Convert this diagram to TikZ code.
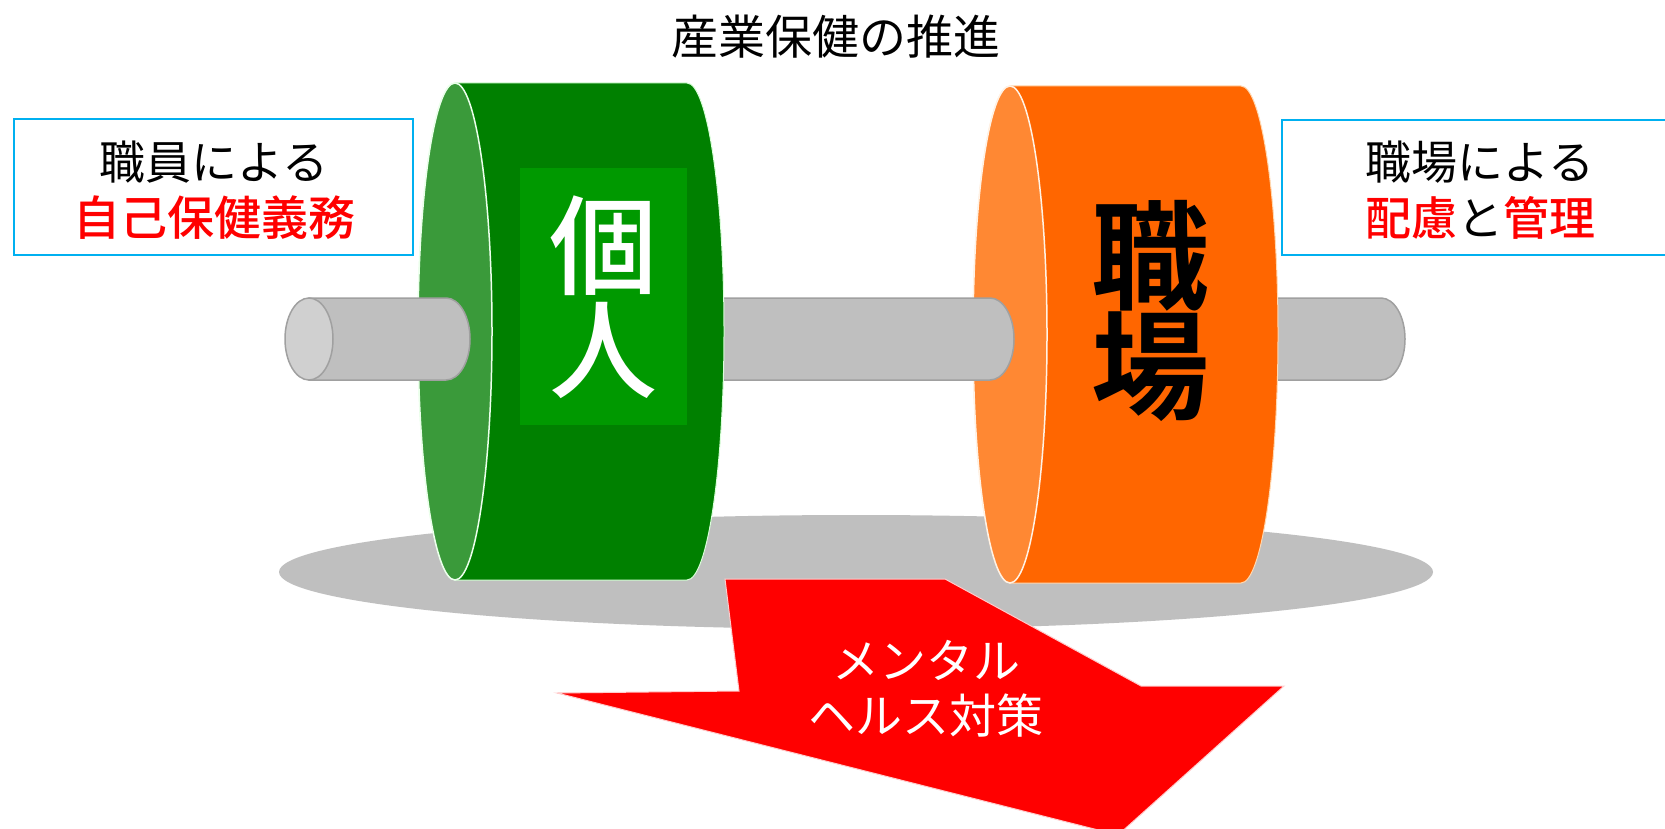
\documentclass[tikz,border=0pt]{standalone}
\usepackage{fontspec}
\setmainfont{Noto Sans CJK JP}[BoldFont={Noto Sans CJK JP Medium}]
\newfontfamily\heavyjp{Noto Sans CJK JP Bold}
\definecolor{shadowgray}{HTML}{BFBFBF}
\definecolor{shaftgray}{HTML}{BFBFBF}
\definecolor{capgray}{HTML}{D0D0D0}
\definecolor{shaftedge}{HTML}{A0A0A0}
\definecolor{drumgreen}{HTML}{008000}
\definecolor{facegreen}{HTML}{3A9A3A}
\definecolor{innergreen}{HTML}{009900}
\definecolor{drumorange}{HTML}{FF6600}
\definecolor{faceorange}{HTML}{FF8833}
\definecolor{boxcyan}{HTML}{00B0F0}
\definecolor{alertred}{HTML}{FF0000}
\begin{document}
\begin{tikzpicture}[x=1pt,y=-1pt,
  shaftbody/.style={fill=shaftgray, draw=shaftedge, line width=1.5pt},
  shaftcap/.style={fill=capgray, draw=shaftedge, line width=1.5pt},
  infobox/.style={draw=boxcyan, line width=1.5pt, fill=white},
  infotext/.style={font=\fontsize{46}{58}\selectfont, align=center, inner sep=0pt},
  drumrad/.style={x radius=37pt, y radius=248.5pt},
  shaftrad/.style={x radius=24pt, y radius=41pt}]
\useasboundingbox (0,0) rectangle (1665,829);
\clip (0,0) rectangle (1665,829);
\fill[white] (0,0) rectangle (1665,829);

% title
\node[font=\fontsize{47}{56}\selectfont, inner sep=0pt] (title) at (836,37) {産業保健の推進};

% floor shadow
\fill[shadowgray] (856,572) ellipse [x radius=577pt, y radius=57pt];

% right shaft (behind the orange drum)
\draw[shaftbody] (1250,298) -- (1381,298) arc[start angle=90,end angle=-90,shaftrad] -- (1250,380) -- cycle;

% orange drum
\filldraw[fill=drumorange, draw=orange!30!white, line width=1pt]
  (1010,86) -- (1241,86) arc[start angle=90,end angle=-90,drumrad]
  -- (1010,583) arc[start angle=270,end angle=90,drumrad] -- cycle;
\filldraw[fill=faceorange, draw=orange!10!white, line width=1.5pt] (1010,334.5) ellipse [drumrad];

% middle shaft
\draw[shaftbody] (700,298) -- (990,298) arc[start angle=90,end angle=-90,shaftrad] -- (700,380) -- cycle;

% green drum
\filldraw[fill=drumgreen, draw=green!15!white, line width=1pt]
  (455,83) -- (687,83) arc[start angle=90,end angle=-90,drumrad]
  -- (455,580) arc[start angle=270,end angle=90,drumrad] -- cycle;
\filldraw[fill=facegreen, draw=green!8!white, line width=1.5pt] (455,331.5) ellipse [drumrad];
\fill[innergreen] (520,168) rectangle (687,425);

% left shaft end
\draw[shaftbody] (309,298) -- (446,298) arc[start angle=90,end angle=-90,shaftrad] -- (309,380) -- cycle;
\draw[shaftcap] (309,339) ellipse [shaftrad];

% drum labels
\node[font=\fontsize{108}{104}\selectfont\bfseries, text=white, align=center, inner sep=0pt] (kojin) at (603,297) {個\\人};
\node[font=\fontsize{118}{110}\selectfont\heavyjp, text=black, align=center, inner sep=0pt] (shokuba) at (1150,311) {職\\場};

% side boxes
\draw[infobox] (14,119) rectangle (413,255);
\node[infotext] (leftA) at (214,162) {職員による};
\node[infotext, text=alertred, font=\fontsize{47}{58}\selectfont\bfseries] (leftB) at (214,218) {自己保健義務};

\draw[infobox] (1282,120) rectangle (1685,255);
\node[infotext] (rightA) at (1480,162) {職場による};
\node[infotext] (rightB) at (1480,218) {\textcolor{alertred}{\bfseries 配慮}と\textcolor{alertred}{\bfseries 管理}};

% mental health arrow
\filldraw[fill=alertred, draw=red!20!white, line width=1pt]
  (725,579) -- (945,579) -- (1141,686) -- (1284,686) -- (1118,835)
  -- (557,693) -- (739,691) -- cycle;
\node[font=\fontsize{47}{55}\selectfont, text=white, align=center, inner sep=0pt] (mental) at (926,689) {メンタル\\ヘルス対策};
\end{tikzpicture}
\end{document}
